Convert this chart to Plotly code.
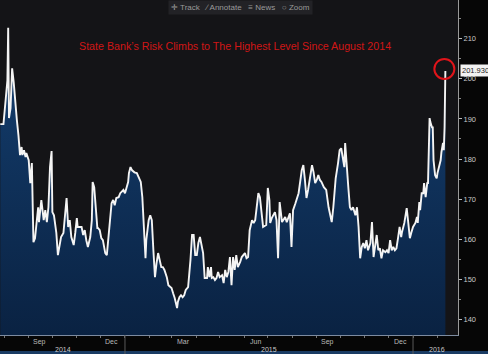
import plotly.graph_objects as go
import pandas as pd

# ---------------- data ----------------
dates = [
    "2014-07-27", "2014-07-31", "2014-08-03", "2014-08-05", "2014-08-06", "2014-08-07", "2014-08-09",
    "2014-08-11", "2014-08-13", "2014-08-15", "2014-08-16", "2014-08-17", "2014-08-19", "2014-08-21",
    "2014-08-23", "2014-08-24", "2014-08-26", "2014-08-28", "2014-08-29", "2014-09-01", "2014-09-03",
    "2014-09-05", "2014-09-07", "2014-09-09", "2014-09-13", "2014-09-14", "2014-09-17", "2014-09-18",
    "2014-09-20", "2014-09-22", "2014-09-24", "2014-09-26", "2014-09-28", "2014-09-30", "2014-10-01",
    "2014-10-03", "2014-10-06", "2014-10-08", "2014-10-10", "2014-10-12", "2014-10-15", "2014-10-17",
    "2014-10-19", "2014-10-21", "2014-10-23", "2014-10-25", "2014-10-28", "2014-10-30", "2014-11-01",
    "2014-11-02", "2014-11-05", "2014-11-07", "2014-11-09", "2014-11-11", "2014-11-13", "2014-11-15",
    "2014-11-18", "2014-11-20", "2014-11-21", "2014-11-23", "2014-11-27", "2014-11-28", "2014-11-30",
    "2014-12-02", "2014-12-04", "2014-12-07", "2014-12-09", "2014-12-13", "2014-12-15", "2014-12-17",
    "2014-12-19", "2014-12-21", "2014-12-24", "2014-12-26", "2014-12-28", "2014-12-30", "2015-01-01",
    "2015-01-05", "2015-01-06", "2015-01-08", "2015-01-10", "2015-01-13", "2015-01-16", "2015-01-19",
    "2015-01-21", "2015-01-23", "2015-01-25", "2015-01-27", "2015-01-28", "2015-01-31", "2015-02-02",
    "2015-02-04", "2015-02-06", "2015-02-08", "2015-02-10", "2015-02-12", "2015-02-16", "2015-02-18",
    "2015-02-20", "2015-02-23", "2015-02-25", "2015-02-27", "2015-03-01", "2015-03-03", "2015-03-05",
    "2015-03-08", "2015-03-09", "2015-03-11", "2015-03-13", "2015-03-15", "2015-03-17", "2015-03-19",
    "2015-03-22", "2015-03-25", "2015-03-27", "2015-03-29", "2015-03-31", "2015-04-02", "2015-04-04",
    "2015-04-06", "2015-04-08", "2015-04-10", "2015-04-12", "2015-04-15", "2015-04-16", "2015-04-18",
    "2015-04-20", "2015-04-21", "2015-04-23", "2015-04-25", "2015-04-27", "2015-04-29", "2015-05-01",
    "2015-05-04", "2015-05-06", "2015-05-08", "2015-05-10", "2015-05-12", "2015-05-14", "2015-05-16",
    "2015-05-18", "2015-05-20", "2015-05-22", "2015-05-24", "2015-05-27", "2015-05-29", "2015-06-02",
    "2015-06-04", "2015-06-06", "2015-06-08", "2015-06-11", "2015-06-13", "2015-06-15", "2015-06-19",
    "2015-06-21", "2015-06-23", "2015-06-25", "2015-06-29", "2015-07-01", "2015-07-03", "2015-07-04",
    "2015-07-06", "2015-07-10", "2015-07-12", "2015-07-14", "2015-07-15", "2015-07-16", "2015-07-19",
    "2015-07-21", "2015-07-23", "2015-07-25", "2015-07-27", "2015-07-29", "2015-07-31", "2015-08-02",
    "2015-08-05", "2015-08-09", "2015-08-13", "2015-08-15", "2015-08-17", "2015-08-19", "2015-08-21",
    "2015-08-24", "2015-08-26", "2015-08-28", "2015-08-30", "2015-09-01", "2015-09-03", "2015-09-05",
    "2015-09-07", "2015-09-10", "2015-09-13", "2015-09-16", "2015-09-19", "2015-09-20", "2015-09-22",
    "2015-09-25", "2015-09-28", "2015-09-30", "2015-10-02", "2015-10-04", "2015-10-06", "2015-10-07",
    "2015-10-09", "2015-10-11", "2015-10-13", "2015-10-15", "2015-10-17", "2015-10-20", "2015-10-22",
    "2015-10-24", "2015-10-26", "2015-10-28", "2015-10-30", "2015-11-01", "2015-11-03", "2015-11-05",
    "2015-11-08", "2015-11-10", "2015-11-12", "2015-11-14", "2015-11-16", "2015-11-18", "2015-11-20",
    "2015-11-22", "2015-11-24", "2015-11-27", "2015-11-29", "2015-12-01", "2015-12-03", "2015-12-05",
    "2015-12-07", "2015-12-09", "2015-12-11", "2015-12-13", "2015-12-15", "2015-12-17", "2015-12-18",
    "2015-12-21", "2015-12-23", "2015-12-24", "2015-12-26", "2015-12-28", "2015-12-30", "2016-01-01",
    "2016-01-04", "2016-01-06", "2016-01-07", "2016-01-09", "2016-01-10", "2016-01-12", "2016-01-14",
    "2016-01-15", "2016-01-17", "2016-01-19", "2016-01-20", "2016-01-22", "2016-01-23", "2016-01-25",
    "2016-01-26", "2016-01-27", "2016-01-29", "2016-01-31", "2016-02-01", "2016-02-03", "2016-02-05",
    "2016-02-06", "2016-02-08", "2016-02-09", "2016-02-10", "2016-02-11",
]

cds = [
    188.7, 188.7, 195.2, 199.6, 212.7, 190.2, 192.7,
    202.6, 199.1, 193.9, 190.4, 189.7, 185.9, 181.0,
    183.0, 181.0, 182.2, 180.5, 181.5, 179.7, 174.0,
    179.0, 159.3, 160.3, 168.0, 164.3, 169.8, 168.5,
    164.8, 167.3, 164.3, 168.0, 178.0, 182.0, 166.8,
    166.0, 161.6, 156.1, 158.1, 160.6, 161.6, 167.3,
    170.3, 163.1, 164.8, 160.6, 158.6, 161.6, 165.3,
    163.1, 163.1, 163.1, 161.1, 162.3, 159.8, 158.1,
    160.6, 164.8, 174.3, 173.0, 162.8, 162.8, 162.3,
    160.3, 159.8, 156.6, 156.1, 164.8, 169.0, 169.8,
    168.5, 170.3, 170.5, 171.5, 171.8, 172.3, 171.5,
    174.3, 176.5, 178.0, 177.2, 176.7, 176.5, 175.3,
    174.3, 170.5, 161.6, 155.3, 159.8, 164.8, 166.0,
    164.8, 157.3, 150.6, 154.1, 156.6, 153.1, 153.1,
    152.4, 150.6, 148.6, 148.1, 147.9, 146.6, 145.4,
    142.9, 144.4, 145.6, 146.1, 145.6, 146.1, 147.4,
    148.1, 154.9, 161.1, 161.1, 156.1, 156.1, 159.1,
    160.6, 158.1, 156.6, 150.4, 150.4, 153.1, 150.6,
    153.1, 150.4, 150.6, 149.9, 150.4, 151.9, 150.6,
    151.1, 149.1, 152.4, 150.6, 151.9, 155.6, 148.6,
    155.6, 152.4, 156.1, 153.1, 154.4, 155.6, 156.6,
    155.3, 155.6, 162.3, 164.8, 164.1, 164.8, 171.5,
    170.5, 167.3, 163.1, 163.6, 172.8, 169.8, 164.1,
    165.3, 166.8, 164.8, 155.3, 162.3, 169.3, 164.3,
    164.8, 165.6, 164.3, 165.3, 166.5, 158.1, 167.3,
    169.0, 171.5, 177.2, 178.5, 174.8, 170.3, 172.3,
    176.0, 178.5, 176.7, 174.0, 174.8, 176.0, 174.8,
    174.3, 173.0, 172.3, 168.0, 165.6, 164.3, 168.0,
    175.2, 179.0, 182.2, 182.7, 180.2, 178.0, 184.0,
    177.2, 173.0, 168.0, 167.3, 168.0, 166.0, 168.0,
    163.1, 155.3, 158.1, 159.1, 157.8, 159.8, 157.3,
    159.1, 164.3, 155.6, 158.1, 161.1, 157.3, 157.8,
    155.3, 157.3, 156.8, 157.3, 156.6, 159.8, 157.3,
    158.1, 157.3, 157.8, 160.3, 163.1, 160.6, 161.8,
    164.1, 167.3, 167.8, 164.1, 160.3, 161.8, 163.1,
    164.1, 165.6, 164.1, 169.3, 167.3, 171.5, 171.5,
    174.0, 170.5, 174.0, 174.0, 190.2, 189.2, 187.9,
    187.9, 179.7, 176.0, 175.2, 176.5, 178.0, 179.7,
    181.7, 184.0, 182.2, 187.9, 201.93,
]

title_text = "State Bank\u2019s Risk Climbs to The Highest Level Since August 2014"
last_value_label = "201.930"

month_label_dates = ["2014-09-15", "2014-12-15", "2015-03-16", "2015-06-16", "2015-09-15", "2015-12-16"]
month_labels = ["Sep", "Dec", "Mar", "Jun", "Sep", "Dec"]
year_label_dates = ["2014-10-15", "2015-07-02", "2016-01-31"]
year_labels = ["2014", "2015", "2016"]
year_bounds = ["2015-01-01", "2016-01-01"]
month_starts = [d.strftime("%Y-%m-%d") for d in pd.date_range("2014-08-01", "2016-02-01", freq="MS")]
y_ticks = [140, 150, 160, 170, 180, 190, 200, 210]

x_range = ["2014-07-26 15:00", "2016-02-27"]
y_range = [136.2, 219.6]

# ---------------- figure ----------------
fig = go.Figure()
fig.add_trace(go.Scatter(
    x=dates, y=cds, mode="lines",
    line=dict(color="#f4f4f4", width=1.9),
    fill="tozeroy",
    fillgradient=dict(type="vertical",
                      colorscale=[[0, "#0a2242"], [1, "#143f70"]],
                      start=136, stop=212),
    hoverinfo="skip", showlegend=False,
))

PH = 335.0  # plot height in px

annotations = []
# title
annotations.append(dict(
    x=235 / 458, y=(335 - 38) / PH, xref="paper", yref="paper",
    text=title_text, showarrow=False,
    font=dict(family="Liberation Sans, Arial, sans-serif", size=10.7, color="#d01616"),
))
# toolbar
annotations.append(dict(
    x=241 / 458, y=1, xref="paper", yref="paper", yanchor="top",
    text="\u271b Track   \u2215 Annotate   \u2261 News   \u25cb Zoom",
    showarrow=False, bgcolor="#222226", borderpad=2,
    font=dict(family="Liberation Sans, Arial, sans-serif", size=8, color="#9a9a9a"),
))
# month labels
for d, t in zip(month_label_dates, month_labels):
    annotations.append(dict(
        x=d, y=0, xref="x", yref="paper", yanchor="top", yshift=-1,
        text=t, showarrow=False,
        font=dict(family="Liberation Sans, Arial, sans-serif", size=7, color="#b8b8b8"),
    ))
# year labels
for d, t in zip(year_label_dates, year_labels):
    annotations.append(dict(
        x=d, y=0, xref="x", yref="paper", yanchor="top", yshift=-9,
        text=t, showarrow=False,
        font=dict(family="Liberation Sans, Arial, sans-serif", size=7, color="#c8c8c8"),
    ))
# last value tag
annotations.append(dict(
    x=1, y=cds[-1], xref="paper", yref="y", xanchor="left", xshift=2,
    text=last_value_label, showarrow=False, bgcolor="#f2f2f2", borderpad=1,
    font=dict(family="Liberation Sans, Arial, sans-serif", size=7.5, color="#222222"),
))

shapes = []
# year separators under the axis
for d in year_bounds:
    shapes.append(dict(type="line", xref="x", yref="paper", x0=d, x1=d,
                       y0=-19 / PH, y1=0, line=dict(color="#5a5a5a", width=1)))
# blue strip at very bottom
shapes.append(dict(type="rect", xref="paper", yref="paper", x0=0, x1=488 / 458,
                   y0=-19 / PH, y1=-16 / PH, fillcolor="#1a3b63", line=dict(width=0),
                   layer="below"))
# red circle around last point
shapes.append(dict(type="circle", xref="x", yref="y",
                   xsizemode="pixel", ysizemode="pixel",
                   xanchor=dates[-1], yanchor=cds[-1],
                   x0=-11, x1=9, y0=-8, y1=12,
                   line=dict(color="#e0141a", width=2)))

fig.update_layout(
    width=488, height=354,
    margin=dict(l=0, r=30, t=0, b=19),
    paper_bgcolor="#060606",
    plot_bgcolor="#141417",
    annotations=annotations,
    shapes=shapes,
    xaxis=dict(
        type="date", range=x_range,
        showgrid=False, zeroline=False,
        showline=True, linecolor="#7d8ba0", linewidth=1,
        tickmode="array", tickvals=month_starts, ticktext=[""] * len(month_starts),
        ticks="outside", ticklen=2, tickcolor="#777777",
        showticklabels=False,
    ),
    yaxis=dict(
        side="right", range=y_range,
        showgrid=False, zeroline=False,
        showline=True, linecolor="#9a9a9a", linewidth=1,
        tickmode="array", tickvals=y_ticks,
        ticks="outside", ticklen=3, tickcolor="#bbbbbb",
        tickfont=dict(family="Liberation Sans, Arial, sans-serif", size=7.5, color="#c8c8c8"),
        minor=dict(tickvals=[145, 155, 165, 175, 185, 195, 205, 215],
                   ticks="outside", ticklen=2, tickcolor="#888888"),
    ),
)

fig.write_html("out.html")
